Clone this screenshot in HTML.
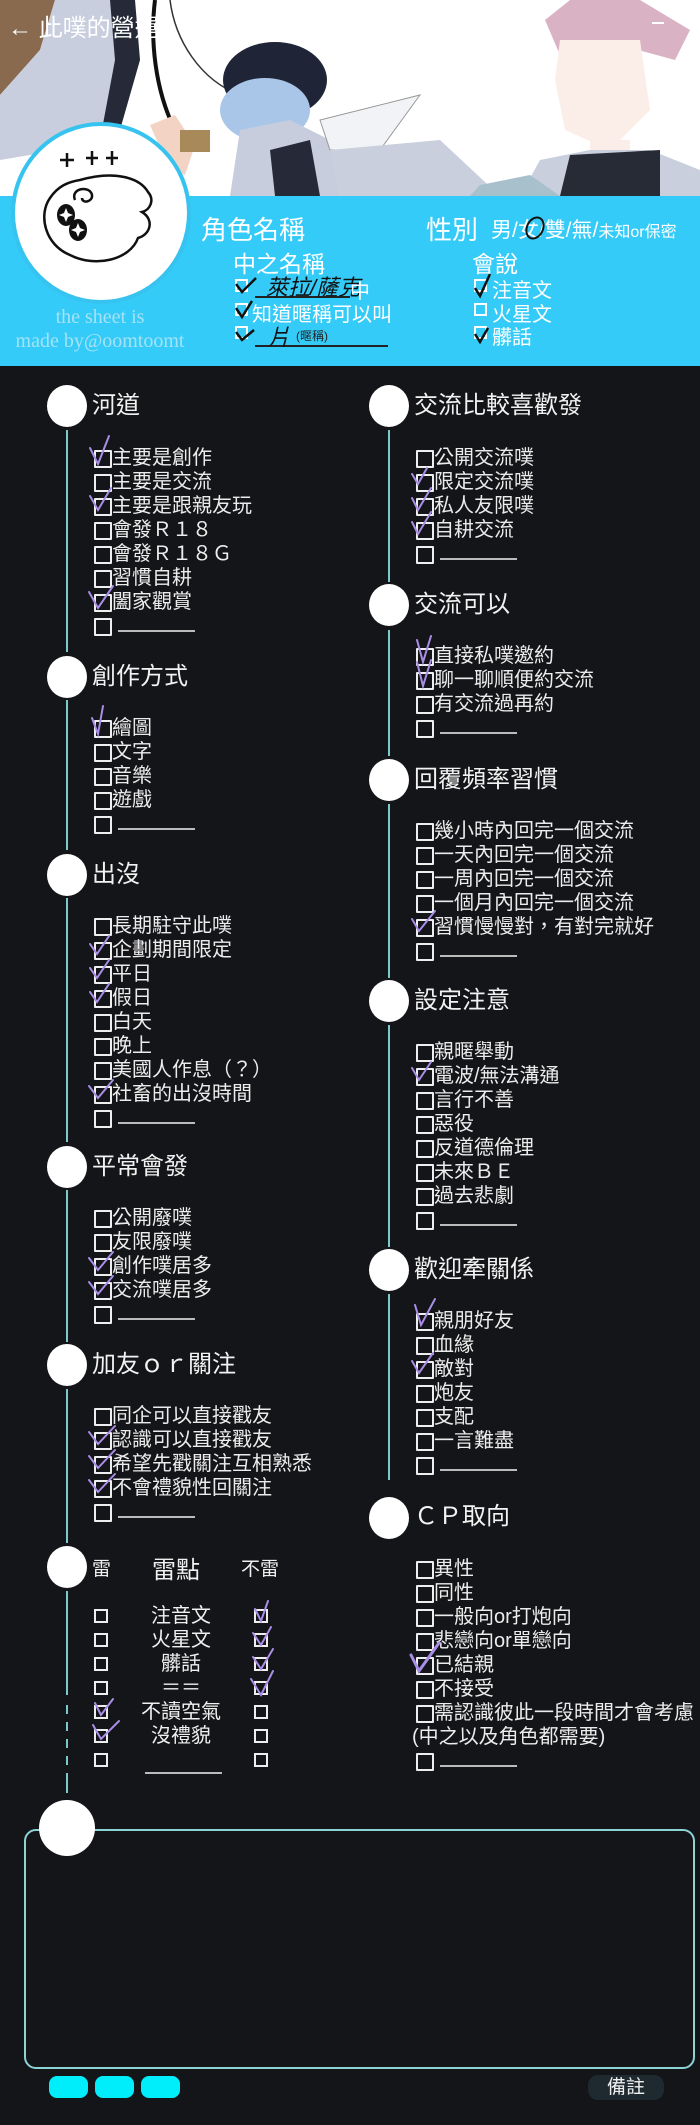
<!DOCTYPE html>
<html><head><meta charset="utf-8">
<style>
*{margin:0;padding:0;box-sizing:border-box}
body{width:700px;height:2125px;background:#141518;position:relative;overflow:hidden;font-family:"Liberation Sans","Noto Sans CJK TC",sans-serif;color:#f0f0f0}
.a{position:absolute;white-space:nowrap}
.dot{position:absolute;width:40px;height:42px;border-radius:50%;background:#fff}
.vl{position:absolute;width:2px;background:#7cc9cb}
.h{position:absolute;font-size:24px;line-height:30px;white-space:nowrap;color:#f2f2f2}
.list{position:absolute}
.it{position:relative;height:24px;line-height:24px;padding-left:18px;font-size:20px;white-space:nowrap;color:#ececec}
.it::before{content:"";position:absolute;left:0;top:4px;width:14px;height:14px;border:2px solid #eee;border-radius:1px}
.it.nb::before{display:none}
.bl{display:inline-block;width:77px;height:18px;border-bottom:2px solid #bbb;margin-left:6px;vertical-align:top}
.ck{position:absolute;left:-5px;top:-10px;width:30px;height:34px;overflow:visible}
.ck path{fill:none;stroke:#a98ee6;stroke-width:2;stroke-linecap:round}
.bx{position:absolute;width:14px;height:14px;border:2px solid #eee}
.wb{position:absolute;width:13px;height:13px;border:2px solid #fff}
</style></head><body>

<svg class="a" style="left:0;top:0" width="700" height="196" viewBox="0 0 700 196">
<rect width="700" height="196" fill="#fff"/>
<polygon points="0,0 55,0 40,50 0,95" fill="#8a6a4e"/>
<polygon points="0,95 40,50 55,0 120,0 130,60 110,120 60,150 0,160" fill="#c8cede"/>
<polygon points="110,0 135,0 140,60 120,130 100,140 115,60" fill="#262a38"/>
<path d="M155 0 C150 40 155 90 175 130" stroke="#111" stroke-width="4" fill="none"/>
<path d="M170 0 C175 40 200 80 240 95" stroke="#333" stroke-width="1.5" fill="none"/>
<polygon points="150,125 175,115 195,145 185,175 170,170" fill="#f3d4c4"/>
<rect x="180" y="130" width="30" height="22" fill="#a88a5a"/>
<ellipse cx="275" cy="80" rx="52" ry="38" fill="#1f2537"/>
<ellipse cx="265" cy="110" rx="45" ry="32" fill="#a9c6e8"/>
<polygon points="240,130 290,120 330,140 340,196 230,196" fill="#c7cddd"/>
<polygon points="270,150 310,140 320,196 275,196" fill="#262a38"/>
<polygon points="320,120 420,95 380,150 330,150" fill="#f1f3f6" stroke="#999" stroke-width="1"/>
<polygon points="330,150 440,140 500,196 340,196" fill="#c9cfdc"/>
<path d="M545 20 L570 0 L640 0 L690 30 L675 60 L620 45 L560 55 Z" fill="#d9b2c4"/>
<polygon points="560,40 640,40 650,110 610,150 565,130 555,80" fill="#fbeee8"/>
<rect x="590" y="140" width="40" height="30" fill="#fbeee8"/>
<polygon points="520,196 540,160 590,150 650,150 700,170 700,196" fill="#c9cfdc"/>
<polygon points="570,155 660,150 660,196 560,196" fill="#272b36"/>
<polygon points="480,185 530,175 560,196 470,196" fill="#a8c0cc"/>
</svg>
<div class="a" style="left:8px;top:8px;font-size:24px;color:#fff">← 此噗的營運</div>
<div class="a" style="left:652px;top:22px;width:12px;height:2px;background:#fff"></div>

<div class="a" style="left:0;top:196px;width:700px;height:170px;background:#34cbf8"></div>
<div class="a" style="left:11px;top:122px;width:180px;height:182px;border-radius:50%;background:#fff;border:4px solid #36c3f0"></div>
<svg class="a" style="left:20px;top:140px" width="160" height="140" viewBox="0 0 160 140">
<g fill="none" stroke="#111" stroke-width="2.5">
<path d="M40 20h14M47 13v14M66 18h12M72 11v14M86 18h12M92 11v14"/>
<path d="M60 40 C95 30 120 38 128 52 C135 60 130 70 122 72 C135 80 130 95 118 98 C110 120 75 128 50 115 C25 105 18 75 30 58 C38 46 48 42 60 40Z"/>
<path d="M55 60 C50 48 70 45 72 55 C73 62 62 64 62 58"/>
</g>
<ellipse cx="46" cy="75" rx="9" ry="11" fill="#111"/><ellipse cx="58" cy="90" rx="9" ry="11" fill="#111"/>
<path d="M46 68 l2 5 5 2 -5 2 -2 5 -2 -5 -5 -2 5 -2z M58 83 l2 5 5 2 -5 2 -2 5 -2 -5 -5 -2 5 -2z" fill="#fff"/>
</svg>
<div class="a" style="left:0;width:200px;top:305px;text-align:center;font-family:'Liberation Serif',serif;font-size:20px;line-height:24px;color:#a5e2f6">the sheet is<br>made by@oomtoomt</div>

<div class="a" style="left:201px;top:210px;font-size:26px;color:#fff">角色名稱</div>
<div class="a" style="left:426px;top:210px;font-size:26px;color:#fff">性別</div>
<div class="a" style="left:491px;top:214px;font-size:21px;color:#fff">男/女/雙/無/<span style="font-size:16px">未知or保密</span></div>
<div class="a" style="left:526px;top:216px;width:18px;height:24px;border:2px solid #111;border-radius:50%;transform:rotate(25deg)"></div>
<div class="a" style="left:233px;top:245px;font-size:23px;color:#fff">中之名稱</div>
<div class="a" style="left:472px;top:245px;font-size:23px;color:#fff">會說</div>

<div class="wb" style="left:235px;top:279px"></div>
<div class="a" style="left:255px;top:296px;width:95px;height:2px;background:#222"></div>
<div class="a" style="left:266px;top:270px;font-size:22px;color:#111;font-style:italic">萊拉/薩克</div>
<div class="a" style="left:350px;top:275px;font-size:20px;color:#fff">中</div>
<div class="wb" style="left:235px;top:303px"></div>
<div class="a" style="left:252px;top:298px;font-size:20px;color:#fff">知道暱稱可以叫</div>
<div class="wb" style="left:235px;top:326px"></div>
<div class="a" style="left:255px;top:345px;width:133px;height:2px;background:#222"></div>
<div class="a" style="left:268px;top:320px;font-size:22px;color:#111;font-style:italic">片</div>
<div class="a" style="left:296px;top:327px;font-size:12px;color:#222">(暱稱)</div>
<svg class="a" style="left:232px;top:268px" width="40" height="80"><path d="M4 16 l6 8 l14 -14 M4 40 l6 9 l10 -16 M4 64 l6 8 l12 -10" fill="none" stroke="#111" stroke-width="2.5"/></svg>

<div class="wb" style="left:474px;top:279px"></div>
<div class="a" style="left:492px;top:274px;font-size:20px;color:#fff">注音文</div>
<div class="wb" style="left:474px;top:303px"></div>
<div class="a" style="left:492px;top:298px;font-size:20px;color:#fff">火星文</div>
<div class="wb" style="left:474px;top:326px"></div>
<div class="a" style="left:492px;top:321px;font-size:20px;color:#fff">髒話</div>
<svg class="a" style="left:472px;top:270px" width="30" height="80"><path d="M3 18 l5 8 l10 -22 M3 64 l5 8 l8 -14" fill="none" stroke="#111" stroke-width="2.5"/></svg>

<div class="vl" style="left:66px;top:430px;height:222px"></div>
<div class="vl" style="left:66px;top:700px;height:150px"></div>
<div class="vl" style="left:66px;top:898px;height:244px"></div>
<div class="vl" style="left:66px;top:1190px;height:152px"></div>
<div class="vl" style="left:66px;top:1389px;height:154px"></div>
<div class="vl" style="left:66px;top:1591px;height:104px"></div>
<div class="vl" style="left:66px;top:1705px;height:9px"></div>
<div class="vl" style="left:66px;top:1722px;height:9px"></div>
<div class="vl" style="left:66px;top:1739px;height:9px"></div>
<div class="vl" style="left:66px;top:1756px;height:9px"></div>
<div class="vl" style="left:66px;top:1773px;height:20px"></div>
<div class="vl" style="left:388px;top:430px;height:152px"></div>
<div class="vl" style="left:388px;top:630px;height:126px"></div>
<div class="vl" style="left:388px;top:804px;height:174px"></div>
<div class="vl" style="left:388px;top:1025px;height:222px"></div>
<div class="vl" style="left:388px;top:1294px;height:186px"></div>

<div class="dot" style="left:47px;top:385px"></div>
<div class="dot" style="left:47px;top:656px"></div>
<div class="dot" style="left:47px;top:854px"></div>
<div class="dot" style="left:47px;top:1146px"></div>
<div class="dot" style="left:47px;top:1344px"></div>
<div class="dot" style="left:47px;top:1546px"></div>
<div class="dot" style="left:369px;top:385px"></div>
<div class="dot" style="left:369px;top:584px"></div>
<div class="dot" style="left:369px;top:759px"></div>
<div class="dot" style="left:369px;top:980px"></div>
<div class="dot" style="left:369px;top:1249px"></div>
<div class="dot" style="left:369px;top:1497px"></div>

<div class="h" style="left:92px;top:391px">河道</div>
<div class="h" style="left:92px;top:662px">創作方式</div>
<div class="h" style="left:92px;top:860px">出沒</div>
<div class="h" style="left:92px;top:1152px">平常會發</div>
<div class="h" style="left:92px;top:1350px">加友ｏｒ關注</div>
<div class="h" style="left:414px;top:391px">交流比較喜歡發</div>
<div class="h" style="left:414px;top:590px">交流可以</div>
<div class="h" style="left:414px;top:765px">回覆頻率習慣</div>
<div class="h" style="left:414px;top:986px">設定注意</div>
<div class="h" style="left:414px;top:1255px">歡迎牽關係</div>
<div class="h" style="left:414px;top:1502px">ＣＰ取向</div>

<div class="list" style="left:94px;top:446px">
<div class="it"><svg class="ck"><path d="M1 12 L9 28 L20 0"/></svg>主要是創作</div>
<div class="it">主要是交流</div>
<div class="it"><svg class="ck"><path d="M1 12 L9 26 L22 4"/></svg>主要是跟親友玩</div>
<div class="it">會發Ｒ１８</div>
<div class="it">會發Ｒ１８Ｇ</div>
<div class="it">習慣自耕</div>
<div class="it"><svg class="ck"><path d="M0 12 L9 28 L24 6"/></svg>闔家觀賞</div>
<div class="it"><span class="bl"></span></div>
</div>
<div class="list" style="left:94px;top:716px">
<div class="it"><svg class="ck"><path d="M3 12 L9 28 L14 0"/></svg>繪圖</div>
<div class="it">文字</div>
<div class="it">音樂</div>
<div class="it">遊戲</div>
<div class="it"><span class="bl"></span></div>
</div>
<div class="list" style="left:94px;top:914px">
<div class="it">長期駐守此噗</div>
<div class="it"><svg class="ck"><path d="M1 16 L8 26 L20 8"/></svg>企劃期間限定</div>
<div class="it"><svg class="ck"><path d="M1 16 L8 26 L20 8"/></svg>平日</div>
<div class="it"><svg class="ck"><path d="M1 16 L8 26 L20 8"/></svg>假日</div>
<div class="it">白天</div>
<div class="it">晚上</div>
<div class="it">美國人作息（？）</div>
<div class="it"><svg class="ck"><path d="M0 14 L9 26 L24 8"/></svg>社畜的出沒時間</div>
<div class="it"><span class="bl"></span></div>
</div>
<div class="list" style="left:94px;top:1206px">
<div class="it">公開廢噗</div>
<div class="it">友限廢噗</div>
<div class="it"><svg class="ck"><path d="M0 14 L9 26 L24 8"/></svg>創作噗居多</div>
<div class="it"><svg class="ck"><path d="M0 14 L9 26 L24 8"/></svg>交流噗居多</div>
<div class="it"><span class="bl"></span></div>
</div>
<div class="list" style="left:94px;top:1404px">
<div class="it">同企可以直接戳友</div>
<div class="it"><svg class="ck"><path d="M0 14 L9 26 L26 8"/></svg>認識可以直接戳友</div>
<div class="it"><svg class="ck"><path d="M0 14 L9 26 L26 8"/></svg>希望先戳關注互相熟悉</div>
<div class="it"><svg class="ck"><path d="M0 14 L9 26 L26 8"/></svg>不會禮貌性回關注</div>
<div class="it"><span class="bl"></span></div>
</div>

<div class="a" style="left:92px;top:1554px;font-size:19px">雷</div>
<div class="a" style="left:152px;top:1550px;font-size:24px">雷點</div>
<div class="a" style="left:241px;top:1554px;font-size:19px">不雷</div>
<div class="a" style="left:131px;top:1604px;width:100px;text-align:center;font-size:20px;line-height:24px">注音文<br>火星文<br>髒話<br>＝＝<br>不讀空氣<br>沒禮貌</div>
<div class="a" style="left:145px;top:1772px;width:77px;height:2px;background:#bbb"></div>
<div class="bx" style="left:94px;top:1609px"></div><div class="bx" style="left:94px;top:1633px"></div>
<div class="bx" style="left:94px;top:1657px"></div><div class="bx" style="left:94px;top:1681px"></div>
<div class="bx" style="left:94px;top:1705px"></div><div class="bx" style="left:94px;top:1729px"></div>
<div class="bx" style="left:94px;top:1753px"></div>
<div class="bx" style="left:254px;top:1609px"></div><div class="bx" style="left:254px;top:1633px"></div>
<div class="bx" style="left:254px;top:1657px"></div><div class="bx" style="left:254px;top:1681px"></div>
<div class="bx" style="left:254px;top:1705px"></div><div class="bx" style="left:254px;top:1729px"></div>
<div class="bx" style="left:254px;top:1753px"></div>
<svg class="a" style="left:85px;top:1595px" width="200" height="160"><g fill="none" stroke="#a98ee6" stroke-width="2" stroke-linecap="round">
<path d="M170 14 L176 26 L183 6 M168 38 L176 50 L186 32 M168 62 L176 74 L188 54 M166 84 L176 100 L188 76"/>
<path d="M10 108 L16 120 L28 104 M8 130 L16 144 L34 126"/></g></svg>

<div class="list" style="left:416px;top:446px">
<div class="it">公開交流噗</div>
<div class="it"><svg class="ck"><path d="M1 14 L7 24 L16 8"/></svg>限定交流噗</div>
<div class="it"><svg class="ck"><path d="M1 14 L7 26 L20 4"/></svg>私人友限噗</div>
<div class="it"><svg class="ck"><path d="M1 14 L7 26 L20 4"/></svg>自耕交流</div>
<div class="it"><span class="bl"></span></div>
</div>
<div class="list" style="left:416px;top:644px">
<div class="it"><svg class="ck"><path d="M6 6 L12 28 L20 2"/></svg>直接私噗邀約</div>
<div class="it"><svg class="ck"><path d="M6 4 L12 28 L20 2"/></svg>聊一聊順便約交流</div>
<div class="it">有交流過再約</div>
<div class="it"><span class="bl"></span></div>
</div>
<div class="list" style="left:416px;top:819px">
<div class="it">幾小時內回完一個交流</div>
<div class="it">一天內回完一個交流</div>
<div class="it">一周內回完一個交流</div>
<div class="it">一個月內回完一個交流</div>
<div class="it"><svg class="ck"><path d="M1 14 L8 26 L24 6"/></svg>習慣慢慢對，有對完就好</div>
<div class="it"><span class="bl"></span></div>
</div>
<div class="list" style="left:416px;top:1040px">
<div class="it">親暱舉動</div>
<div class="it"><svg class="ck"><path d="M1 14 L8 26 L20 8"/></svg>電波/無法溝通</div>
<div class="it">言行不善</div>
<div class="it">惡役</div>
<div class="it">反道德倫理</div>
<div class="it">未來ＢＥ</div>
<div class="it">過去悲劇</div>
<div class="it"><span class="bl"></span></div>
</div>
<div class="list" style="left:416px;top:1309px">
<div class="it"><svg class="ck"><path d="M4 6 L10 26 L24 0"/></svg>親朋好友</div>
<div class="it">血緣</div>
<div class="it"><svg class="ck"><path d="M1 14 L8 26 L22 6"/></svg>敵對</div>
<div class="it">炮友</div>
<div class="it">支配</div>
<div class="it">一言難盡</div>
<div class="it"><span class="bl"></span></div>
</div>
<div class="list" style="left:416px;top:1557px">
<div class="it">異性</div>
<div class="it">同性</div>
<div class="it">一般向or打炮向</div>
<div class="it">悲戀向or單戀向</div>
<div class="it"><svg class="ck"><path d="M0 12 L8 28 L28 0" style="stroke-width:3"/></svg>已結親</div>
<div class="it">不接受</div>
<div class="it">需認識彼此一段時間才會考慮</div>
<div class="it nb" style="padding-left:0;margin-left:-4px">(中之以及角色都需要)</div>
<div class="it"><span class="bl"></span></div>
</div>

<div class="a" style="left:24px;top:1829px;width:671px;height:240px;border:2px solid #8ad4d6;border-radius:12px"></div>
<div class="a" style="left:39px;top:1800px;width:56px;height:56px;border-radius:50%;background:#fff"></div>
<div class="a" style="left:49px;top:2076px;width:39px;height:22px;border-radius:8px;background:#00eefc"></div>
<div class="a" style="left:95px;top:2076px;width:39px;height:22px;border-radius:8px;background:#00eefc"></div>
<div class="a" style="left:141px;top:2076px;width:39px;height:22px;border-radius:8px;background:#00eefc"></div>
<div class="a" style="left:588px;top:2075px;width:76px;height:25px;border-radius:10px;background:#1f2a30;text-align:center;font-size:19px;line-height:25px;color:#eee">備註</div>
</body></html>
